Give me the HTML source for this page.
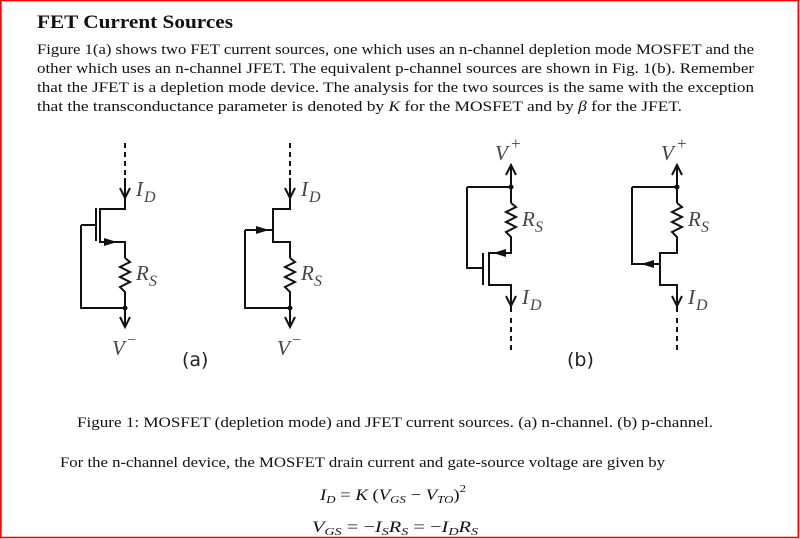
<!DOCTYPE html>
<html><head><meta charset="utf-8"><style>
html,body{margin:0;padding:0;background:#fff;}
svg{display:block;}
.t{font-family:"Liberation Serif",serif;font-size:14.6px;fill:#111;}
.i{font-family:"Liberation Serif",serif;font-style:italic;fill:#444;}
.s{font-family:"DejaVu Sans","Liberation Sans",sans-serif;fill:#222;font-size:19px;}
</style></head><body>
<svg width="800" height="539" viewBox="0 0 800 539" xmlns="http://www.w3.org/2000/svg">
<rect x="0" y="0" width="800" height="539" fill="#fff"/>
<rect x="0.8" y="0.5" width="797.5" height="537" fill="none" stroke="#f00" stroke-width="1.6"/>
<text x="37" y="28" font-family="Liberation Serif,serif" font-weight="bold" font-size="19" textLength="196" lengthAdjust="spacingAndGlyphs" fill="#111">FET Current Sources</text>
<text class="t" x="37" y="54" textLength="717" lengthAdjust="spacingAndGlyphs">Figure 1(a) shows two FET current sources, one which uses an n-channel depletion mode MOSFET and the</text>
<text class="t" x="37" y="73" textLength="717" lengthAdjust="spacingAndGlyphs">other which uses an n-channel JFET. The equivalent p-channel sources are shown in Fig. 1(b). Remember</text>
<text class="t" x="37" y="92" textLength="717" lengthAdjust="spacingAndGlyphs">that the JFET is a depletion mode device. The analysis for the two sources is the same with the exception</text>
<text class="t" x="37" y="111" textLength="645" lengthAdjust="spacingAndGlyphs">that the transconductance parameter is denoted by <tspan font-style="italic">K</tspan> for the MOSFET and by <tspan font-style="italic">β</tspan> for the JFET.</text>

<g stroke="#111" stroke-width="2" fill="none">
<path d="M125 143V178" stroke-dasharray="5,4"/>
<path d="M125 178V209H100V242H125V258"/>
<path d="M120 188L125 198L130 188"/>
<path d="M96 208V241M81 225H96"/>
<path d="M125 258L130 262L120 267L130 272L120 277L130 282L120 287L125 292V327"/>
<path d="M81 225V308H125"/>
<path d="M120 317L125 327L130 317"/>
<path d="M290 143V178" stroke-dasharray="5,4"/>
<path d="M290 178V209H273V242H290V258"/>
<path d="M285 188L290 198L295 188"/>
<path d="M245 230H273"/>
<path d="M290 258L295 262L285 267L295 272L285 277L295 282L285 287L290 292V327"/>
<path d="M245 230V308H290"/>
<path d="M285 317L290 327L295 317"/>
<path d="M511 165V203"/>
<path d="M506 175L511 165L516 175"/>
<path d="M511 203L516 207L506 212L516 217L506 222L516 227L506 232L511 237V253H489V285H511V312"/>
<path d="M483 253V285"/>
<path d="M467 187H511M467 187V268H483"/>
<path d="M506 296L511 306L516 296"/>
<path d="M511 318V352" stroke-dasharray="5,4"/>
<path d="M677 165V203"/>
<path d="M672 175L677 165L682 175"/>
<path d="M677 203L682 207L672 212L682 217L672 222L682 227L672 232L677 237V253H660V285H677V312"/>
<path d="M632 187H677M632 187V264H660"/>
<path d="M672 296L677 306L682 296"/>
<path d="M677 318V352" stroke-dasharray="5,4"/>
</g>
<g fill="#111">
<path d="M104 238L117 242L104 246Z"/>
<path d="M256 226L269 230L256 234Z"/>
<path d="M506 249L493 253L506 257Z"/>
<path d="M654 260L641 264L654 268Z"/>
<circle cx="125" cy="308" r="2.5"/><circle cx="290" cy="308" r="2.5"/>
<circle cx="511" cy="187" r="2.5"/><circle cx="677" cy="187" r="2.5"/>
</g>
<g class="i" font-size="21">
<text x="136" y="196">I</text><text x="144" y="202" font-size="16">D</text>
<text x="301" y="196">I</text><text x="309" y="202" font-size="16">D</text>
<text x="136" y="280">R</text><text x="149" y="286" font-size="16">S</text>
<text x="301" y="280">R</text><text x="314" y="286" font-size="16">S</text>
<text x="112" y="355">V</text><text x="127" y="345" font-size="16" font-style="normal">−</text>
<text x="277" y="355">V</text><text x="292" y="345" font-size="16" font-style="normal">−</text>
<text x="495" y="160">V</text><text x="511" y="149" font-size="17" font-style="normal">+</text>
<text x="661" y="160">V</text><text x="677" y="149" font-size="17" font-style="normal">+</text>
<text x="522" y="226">R</text><text x="535" y="232" font-size="16">S</text>
<text x="688" y="226">R</text><text x="701" y="232" font-size="16">S</text>
<text x="522" y="304">I</text><text x="530" y="310" font-size="16">D</text>
<text x="688" y="304">I</text><text x="696" y="310" font-size="16">D</text>
</g>
<text class="s" x="182" y="366">(a)</text>
<text class="s" x="567" y="366">(b)</text>

<text class="t" x="77" y="427" textLength="636" lengthAdjust="spacingAndGlyphs">Figure 1: MOSFET (depletion mode) and JFET current sources. (a) n-channel. (b) p-channel.</text>
<text class="t" x="60" y="467" textLength="605" lengthAdjust="spacingAndGlyphs">For the n-channel device, the MOSFET drain current and gate-source voltage are given by</text>
<text x="320" y="500" font-family="Liberation Serif,serif" font-size="16" fill="#111" textLength="146" lengthAdjust="spacingAndGlyphs"><tspan font-style="italic">I</tspan><tspan font-style="italic" font-size="11" dy="3">D</tspan><tspan dy="-3"> = </tspan><tspan font-style="italic">K</tspan> (<tspan font-style="italic">V</tspan><tspan font-style="italic" font-size="11" dy="3">GS</tspan><tspan dy="-3"> − </tspan><tspan font-style="italic">V</tspan><tspan font-style="italic" font-size="11" dy="3">TO</tspan><tspan dy="-3">)</tspan><tspan font-size="11" dy="-8">2</tspan></text>
<text x="312" y="532" font-family="Liberation Serif,serif" font-size="16" fill="#111" textLength="166" lengthAdjust="spacingAndGlyphs"><tspan font-style="italic">V</tspan><tspan font-style="italic" font-size="11" dy="3">GS</tspan><tspan dy="-3"> = −</tspan><tspan font-style="italic">I</tspan><tspan font-style="italic" font-size="11" dy="3">S</tspan><tspan font-style="italic" dy="-3">R</tspan><tspan font-style="italic" font-size="11" dy="3">S</tspan><tspan dy="-3"> = −</tspan><tspan font-style="italic">I</tspan><tspan font-style="italic" font-size="11" dy="3">D</tspan><tspan font-style="italic" dy="-3">R</tspan><tspan font-style="italic" font-size="11" dy="3">S</tspan></text>
</svg>
</body></html>
